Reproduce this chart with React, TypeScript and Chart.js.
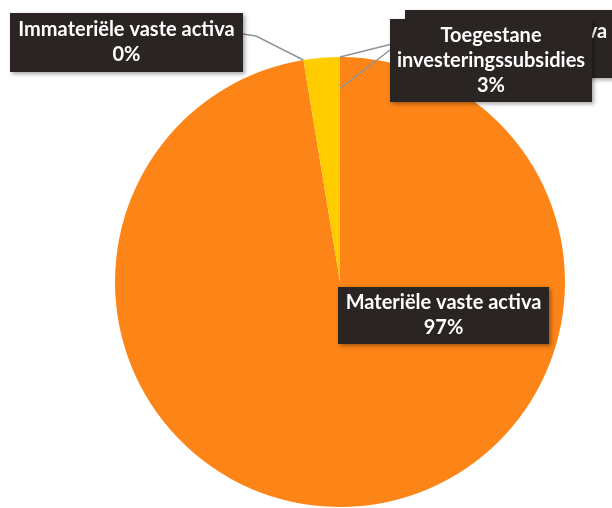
import React, { useEffect, useRef } from "react";
import { Chart, registerables } from "chart.js";

Chart.register(...registerables);

const categories = [
  "Materiële vaste activa",
  "Immateriële vaste activa",
  "Toegestane investeringssubsidies",
  "Financiële vaste activa",
];
const values = [97.4, 0, 2.6, 0];
const percentLabels = ["97%", "0%", "3%", "0%"];
const sliceColors = ["#FD8416", "#FFCC00", "#FFCC00", "#FFCC00"];

type Box = { i: number; x: number; y: number; w: number; h: number; lines: string[]; tx?: number; leader?: number[][]; anchorR?: number; anchorAt?: "start" | "end" };

const FONT = "bold 20px Lato";

const labelPlugin = {
  id: "labelBoxes",
  afterDraw(chart: any) {
    const ctx: CanvasRenderingContext2D = chart.ctx;
    const meta = chart.getDatasetMeta(0);
    const pt = (i: number, at: "start" | "end", rf: number) => {
      const a = meta.data[i];
      const p = a.getProps(["x", "y", "startAngle", "endAngle", "outerRadius"], true);
      const ang = at === "start" ? p.startAngle : p.endAngle;
      const r = p.outerRadius * rf;
      return [p.x + r * Math.cos(ang), p.y + r * Math.sin(ang)];
    };
    const boxes: Box[] = [
      { i: 3, x: 405, y: 10, w: 215, h: 68, tx: 507, lines: [categories[3], percentLabels[3]], leader: [[405, 44], [392, 44]], anchorR: 1, anchorAt: "end" },
      { i: 1, x: 10, y: 13, w: 233, h: 59, lines: ["Immateriële vaste activa", percentLabels[1]], leader: [[243, 34], [256, 36]], anchorR: 1, anchorAt: "start" },
      { i: 2, x: 390, y: 19, w: 202, h: 83, lines: ["Toegestane", "investeringssubsidies", percentLabels[2]], leader: [[390, 50]], anchorR: 0.86, anchorAt: "end" },
      { i: 0, x: 338, y: 287, w: 211, h: 57, lines: ["Materiële vaste activa", percentLabels[0]] },
    ];
    ctx.save();
    for (const b of boxes) {
      if (b.leader) {
        const end = pt(b.i, b.anchorAt!, b.anchorR!);
        ctx.beginPath();
        ctx.strokeStyle = "#8C949C";
        ctx.lineWidth = 1.5;
        ctx.moveTo(b.leader[0][0], b.leader[0][1]);
        for (let k = 1; k < b.leader.length; k++) ctx.lineTo(b.leader[k][0], b.leader[k][1]);
        ctx.lineTo(end[0], end[1]);
        ctx.stroke();
      }
      ctx.save();
      ctx.shadowColor = "rgba(0,0,0,0.35)";
      ctx.shadowBlur = 4;
      ctx.shadowOffsetX = 2;
      ctx.shadowOffsetY = 2;
      ctx.fillStyle = "#2A2422";
      ctx.fillRect(b.x, b.y, b.w, b.h);
      ctx.restore();
      ctx.fillStyle = "#FFFFFF";
      ctx.font = FONT;
      ctx.textAlign = "center";
      ctx.textBaseline = "middle";
      const lh = 25;
      const cx = b.tx ?? b.x + b.w / 2;
      const cy = b.y + b.h / 2;
      const n = b.lines.length;
      b.lines.forEach((t, k) => {
        ctx.fillText(t, cx, cy + (k - (n - 1) / 2) * lh);
      });
    }
    ctx.restore();
  },
};

export default function App() {
  const ref = useRef<HTMLCanvasElement>(null);
  useEffect(() => {
    if (!ref.current) return;
    const chart = new Chart(ref.current, {
      type: "pie",
      data: {
        labels: categories,
        datasets: [
          {
            data: values,
            backgroundColor: sliceColors,
            borderWidth: 0,
          },
        ],
      },
      options: {
        responsive: false,
        animation: false,
        devicePixelRatio: 1,
        rotation: 0,
        layout: { padding: { left: 115, right: 47, top: 57, bottom: 1 } },
        plugins: { legend: { display: false }, tooltip: { enabled: false } },
      },
      plugins: [labelPlugin],
    } as any);
    return () => chart.destroy();
  }, []);
  return (
    <div style={{ position: "fixed", left: 0, top: 0, width: 612, height: 508, background: "#fff" }}>
      <canvas ref={ref} width={612} height={508} />
    </div>
  );
}
